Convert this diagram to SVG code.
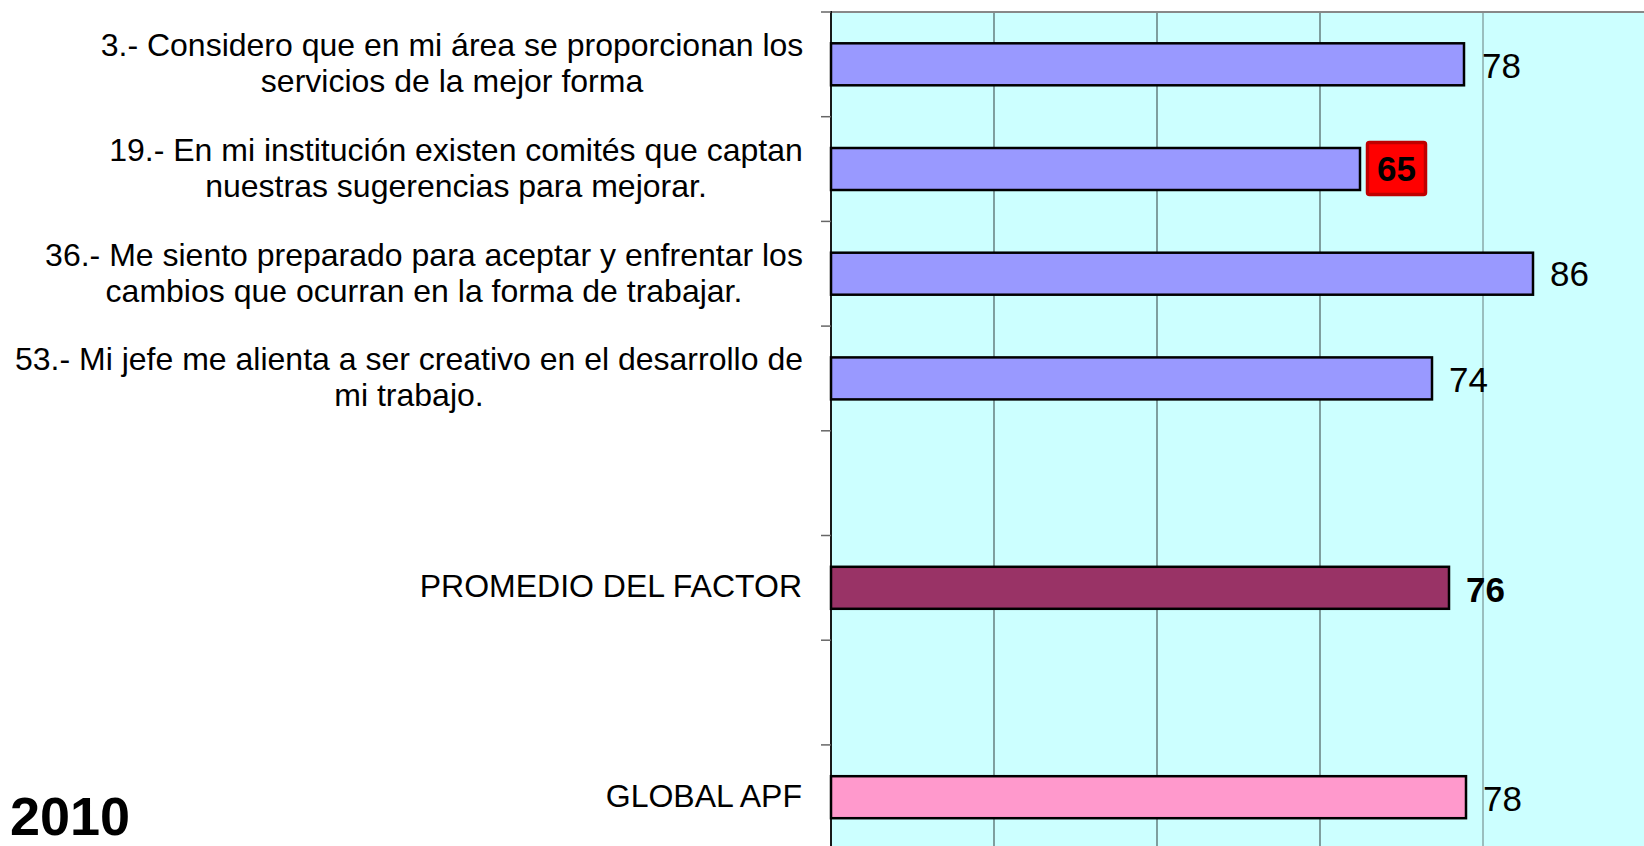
<svg xmlns="http://www.w3.org/2000/svg" width="1644" height="846" viewBox="0 0 1644 846">
<style>
.lbl{font-family:"Liberation Sans",Arial,sans-serif;font-size:32px;fill:#000}
.val{font-family:"Liberation Sans",Arial,sans-serif;font-size:35px;fill:#000}
.bold{font-weight:bold}
.bar{stroke:#000;stroke-width:2.5}
.q{fill:#9999FF}
.grid{stroke:#556b6b;stroke-width:1.3}
.tick{stroke:#666;stroke-width:1.5}
</style>
<rect width="1644" height="846" fill="#fff"/>
<g id="plot">
<rect x="831" y="12" width="813" height="834" fill="#CCFFFF"/>
<line class="grid" x1="994" y1="12" x2="994" y2="846"/>
<line class="grid" x1="1157" y1="12" x2="1157" y2="846"/>
<line class="grid" x1="1320" y1="12" x2="1320" y2="846"/>
<line x1="1483" y1="12" x2="1483" y2="846" stroke="#8aa8a8" stroke-width="1.5"/>
<line x1="831" y1="12" x2="1644" y2="12" stroke="#888" stroke-width="2"/>
<line x1="831" y1="11" x2="831" y2="846" stroke="#000" stroke-width="1.8"/>
<g id="ticks">
<line class="tick" x1="821" y1="12" x2="831" y2="12"/>
<line class="tick" x1="821" y1="116.7" x2="831" y2="116.7"/>
<line class="tick" x1="821" y1="221.4" x2="831" y2="221.4"/>
<line class="tick" x1="821" y1="326.1" x2="831" y2="326.1"/>
<line class="tick" x1="821" y1="430.8" x2="831" y2="430.8"/>
<line class="tick" x1="821" y1="535.5" x2="831" y2="535.5"/>
<line class="tick" x1="821" y1="640.2" x2="831" y2="640.2"/>
<line class="tick" x1="821" y1="744.9" x2="831" y2="744.9"/>
</g>
</g>
<g id="item3">
<text class="lbl" text-anchor="middle"><tspan x="452" y="56">3.- Considero que en mi área se proporcionan los</tspan><tspan x="452" y="92">servicios de la mejor forma</tspan></text>
<rect class="bar q" x="831" y="43.3" width="633" height="42"/>
<text class="val" x="1482" y="77.5">78</text>
</g>
<g id="item19">
<text class="lbl" text-anchor="middle"><tspan x="456" y="161">19.- En mi institución existen comités que captan</tspan><tspan x="456" y="197">nuestras sugerencias para mejorar.</tspan></text>
<rect class="bar q" x="831" y="148" width="529" height="42"/>
<rect x="1367.5" y="142.5" width="58" height="52" rx="2" fill="#FF0000" stroke="#C00000" stroke-width="3.5"/>
<text class="val bold" x="1396.5" y="181" text-anchor="middle">65</text>
</g>
<g id="item36">
<text class="lbl" text-anchor="middle"><tspan x="424" y="265.5">36.- Me siento preparado para aceptar y enfrentar los</tspan><tspan x="424" y="301.5">cambios que ocurran en la forma de trabajar.</tspan></text>
<rect class="bar q" x="831" y="252.7" width="702" height="42"/>
<text class="val" x="1550" y="286">86</text>
</g>
<g id="item53">
<text class="lbl" text-anchor="middle"><tspan x="409" y="370">53.- Mi jefe me alienta a ser creativo en el desarrollo de</tspan><tspan x="409" y="406">mi trabajo.</tspan></text>
<rect class="bar q" x="831" y="357.4" width="601" height="42"/>
<text class="val" x="1449" y="391.5">74</text>
</g>
<g id="promedio">
<text class="lbl" x="802" y="597" text-anchor="end">PROMEDIO DEL FACTOR</text>
<rect class="bar" x="831" y="566.8" width="618" height="42" fill="#993366"/>
<text class="val bold" x="1466" y="601.5">76</text>
</g>
<g id="global">
<text class="lbl" x="802" y="807" text-anchor="end">GLOBAL APF</text>
<rect class="bar" x="831" y="776.2" width="635" height="42" fill="#FF99CC"/>
<text class="val" x="1483" y="811">78</text>
</g>
<g id="year">
<text x="10" y="835" font-family="Liberation Sans,Arial,sans-serif" font-size="54" font-weight="bold">2010</text>
</g>
</svg>
